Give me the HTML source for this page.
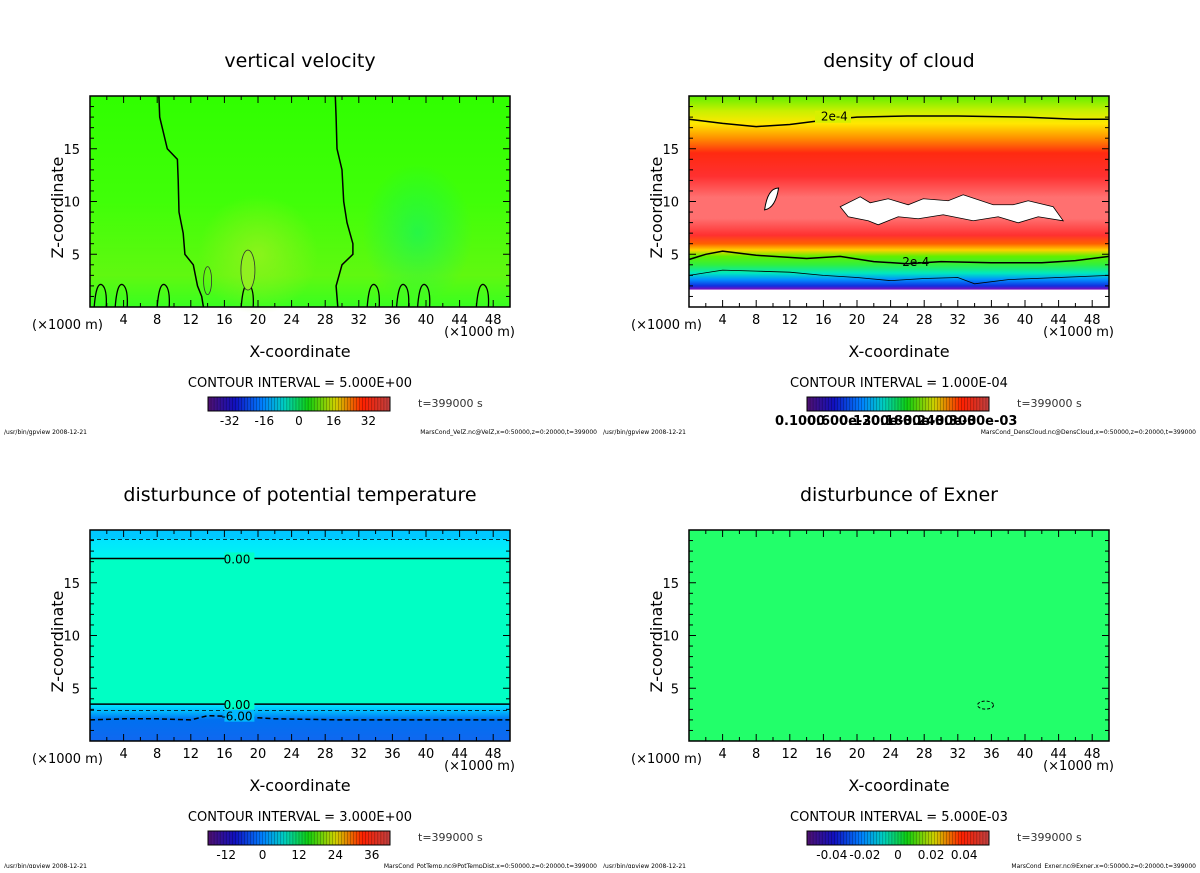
<!DOCTYPE html>
<html><head><meta charset="utf-8">
<style>
body{margin:0;background:#fff;width:1200px;height:868px;overflow:hidden;font-family:"Liberation Sans",sans-serif}
svg text{font-family:"DejaVu Sans","Liberation Sans",sans-serif}
</style></head>
<body>
<svg id="fig" width="1200" height="868" viewBox="0 0 1200 868" xmlns="http://www.w3.org/2000/svg">
<defs>
<linearGradient id="gVel" x1="0" y1="0" x2="0" y2="1">
<stop offset="0" stop-color="#30ff00"/><stop offset="0.5" stop-color="#40ff08"/><stop offset="0.85" stop-color="#60f810"/><stop offset="1" stop-color="#38ff20"/>
</linearGradient>
<radialGradient id="gVelBlob" cx="0.5" cy="0.5" r="0.5">
<stop offset="0" stop-color="#a0f020" stop-opacity="0.7"/><stop offset="1" stop-color="#a0f020" stop-opacity="0"/>
</radialGradient>
<radialGradient id="gVelBlue" cx="0.5" cy="0.5" r="0.5">
<stop offset="0" stop-color="#00f080" stop-opacity="0.5"/><stop offset="1" stop-color="#00f080" stop-opacity="0"/>
</radialGradient>
<linearGradient id="gDens" x1="0" y1="0" x2="0" y2="1">
<stop offset="0" stop-color="#60f000"/><stop offset="0.07" stop-color="#c8f000"/><stop offset="0.13" stop-color="#ffe800"/>
<stop offset="0.2" stop-color="#ff9000"/><stop offset="0.27" stop-color="#ff2a10"/><stop offset="0.38" stop-color="#ff3030"/>
<stop offset="0.48" stop-color="#ff7070"/><stop offset="0.58" stop-color="#ff7070"/><stop offset="0.66" stop-color="#ff3030"/>
<stop offset="0.7" stop-color="#ff6000"/><stop offset="0.73" stop-color="#ffd000"/><stop offset="0.76" stop-color="#60f000"/>
<stop offset="0.8" stop-color="#30f040"/><stop offset="0.84" stop-color="#00e8c0"/><stop offset="0.87" stop-color="#0090ff"/>
<stop offset="0.9" stop-color="#1030e0"/><stop offset="0.915" stop-color="#7010c0"/><stop offset="0.92" stop-color="#ffffff"/><stop offset="1" stop-color="#ffffff"/>
</linearGradient>
<linearGradient id="gPot" x1="0" y1="0" x2="0" y2="1">
<stop offset="0" stop-color="#00c8ff"/><stop offset="0.04" stop-color="#00c8ff"/><stop offset="0.045" stop-color="#00e4ff"/>
<stop offset="0.13" stop-color="#00f4f0"/><stop offset="0.135" stop-color="#00ffc4"/><stop offset="0.82" stop-color="#00ffc4"/>
<stop offset="0.825" stop-color="#00e8ff"/><stop offset="0.86" stop-color="#00b8ff"/><stop offset="0.9" stop-color="#0070f0"/><stop offset="1" stop-color="#1068f0"/>
</linearGradient>
<linearGradient id="gCb" x1="0" y1="0" x2="1" y2="0">
<stop offset="0" stop-color="#501070"/><stop offset="0.15" stop-color="#1010c0"/><stop offset="0.3" stop-color="#0080ff"/>
<stop offset="0.42" stop-color="#00d0c0"/><stop offset="0.55" stop-color="#10d010"/><stop offset="0.7" stop-color="#d0d000"/>
<stop offset="0.85" stop-color="#ff2000"/><stop offset="1" stop-color="#c04040"/>
</linearGradient>
</defs>
<g id="panels"></g>
</svg>
<script>
// ---- data ----
const xTicks = [4,8,12,16,20,24,28,32,36,40,44,48];
const zTicks = [5,10,15];
const titles = ["vertical velocity","density of cloud","disturbunce of potential temperature","disturbunce of Exner"];
const intervals = ["5.000E+00","1.000E-04","3.000E+00","5.000E-03"];
const cbTickVals = [[-32,-16,0,16,32],[],[-12,0,12,24,36],[-0.04,-0.02,0,0.02,0.04]];
const cbRanges = [[-42,42],[0,1],[-18,42],[-0.055,0.055]];
const cbTickLabels = [["-32","-16","0","16","32"],[],["-12","0","12","24","36"],["-0.04","-0.02","0","0.02","0.04"]];
const files = ["MarsCond_VelZ.nc@VelZ,x=0:50000,z=0:20000,t=399000","MarsCond_DensCloud.nc@DensCloud,x=0:50000,z=0:20000,t=399000","MarsCond_PotTemp.nc@PotTempDist,x=0:50000,z=0:20000,t=399000","MarsCond_Exner.nc@Exner,x=0:50000,z=0:20000,t=399000"];
// contour lines (x km, z km)
const velLine1X = [8.2,8.3,9.2,10.4,10.5,10.6,11.1,11.3,12.3,12.8,13.3,13.5];
const velLine1Z = [20,18,15,14,12,9,7,5,4,2,1,0];
const velLine2X = [29.2,29.3,29.4,30.0,30.2,30.6,31.3,31.3,30.0,29.3,29.5];
const velLine2Z = [20,18,15,13,10,8,6,5,4,2,0];
const densTopX = [0,4,8,12,16,20,26,32,40,46,50];
const densTopZ = [17.8,17.4,17.1,17.3,17.7,18.0,18.1,18.1,18.0,17.8,17.8];
const densLowX = [0,2,4,8,14,18,22,26,30,36,42,46,50];
const densLowZ = [4.5,5.0,5.3,4.9,4.6,4.8,4.3,4.1,4.3,4.2,4.2,4.4,4.8];
const densBlueX = [0,4,8,12,16,20,24,28,32,34,38,44,50];
const densBlueZ = [3.0,3.5,3.4,3.3,3.0,2.8,2.5,2.7,2.8,2.2,2.6,2.8,3.0];
const potZeroTop = 17.3, potDashTop = 19.1, potZeroLow = 3.5, potDashLow1 = 2.9;
const potLowX = [0,4,8,12,14,18,22,30,40,50];
const potLowZ = [2.0,2.1,2.1,2.0,2.4,2.3,2.1,2.0,2.0,2.0];

const NS="http://www.w3.org/2000/svg";
const root=document.getElementById('panels');
function mk(tag,attrs,parent,txt){const e=document.createElementNS(NS,tag);for(const k in attrs)e.setAttribute(k,attrs[k]);if(txt!==undefined)e.textContent=txt;(parent||root).appendChild(e);return e;}

const origins=[[90,96],[689,96],[90,530],[689,530]];
const W=420,H=211;
const fills=["url(#gVel)","url(#gDens)","url(#gPot)","#22ff6a"];

origins.forEach((o,i)=>{
  const [L,T]=o;
  const sx=x=>L+x/50*W, sz=z=>T+H-z/20*H;
  const g=mk('g',{});
  
  
  const t=mk('text',{x:L+W/2,y:T-29,'text-anchor':'middle','font-size':19},g,titles[i]);
  
  
  const pa=mk('rect',{x:L,y:T,width:W,height:H,fill:fills[i]},g);
  
  
  const line=(xs,zs,attrs)=>{const d=xs.map((x,k)=>(k?'L':'M')+sx(x).toFixed(1)+' '+sz(zs[k]).toFixed(1)).join(' ');const p=mk('path',Object.assign({d:d,fill:'none',stroke:'#000','stroke-width':1.5},attrs),g);return p;};
  if(i===0){
    mk('ellipse',{cx:sx(20),cy:sz(5),rx:60,ry:60,fill:'url(#gVelBlob)'},g);
    mk('ellipse',{cx:sx(39),cy:sz(7),rx:55,ry:70,fill:'url(#gVelBlue)'},g);
    line(velLine1X,velLine1Z);line(velLine2X,velLine2Z);
    [1.5,4,9,19,34,37.5,40,47].forEach(x=>{mk('path',{d:`M${sx(x-1)} ${T+H} q2 -26 8 -22 q5 4 4 22`,fill:'none',stroke:'#000','stroke-width':1.3},g);});
    mk('ellipse',{cx:sx(18.8),cy:sz(3.5),rx:7,ry:20,fill:'#90f020',stroke:'#333','stroke-width':0.8},g);
    mk('ellipse',{cx:sx(14),cy:sz(2.5),rx:4,ry:14,fill:'none',stroke:'#333','stroke-width':0.8},g);
  }
  if(i===1){
    line(densTopX,densTopZ);line(densLowX,densLowZ);line(densBlueX,densBlueZ,{'stroke-width':0.8});
    mk('rect',{x:sx(15),y:sz(18.6),width:36,height:12,fill:'#d6f000'},g);
    mk('text',{x:sx(17.3),y:sz(17.7),'text-anchor':'middle','font-size':12},g,'2e-4');
    mk('text',{x:sx(27),y:sz(3.9),'text-anchor':'middle','font-size':12},g,'2e-4');
    mk('path',{d:`M${sx(9)} ${sz(9.2)} q3 -22 14 -22 q-3 20 -14 22z`,fill:'#fff',stroke:'#000','stroke-width':1},g);
    mk('path',{d:`M${sx(18)} ${sz(9.5)} l20 -10 l10 6 l18 -4 l20 6 l15 -6 l25 2 l15 -6 l30 10 l20 0 l15 -4 l25 6 l10 14 l-25 -4 l-20 6 l-20 -6 l-25 4 l-30 -6 l-25 4 l-20 -2 l-20 8 l-10 -4 l-20 -4z`,fill:'#fff',stroke:'#000','stroke-width':0.8},g);
  }
  if(i===2){
    line([0,50],[potZeroTop,potZeroTop]);line([0,50],[potDashTop,potDashTop],{'stroke-dasharray':'4 3','stroke-width':0.8});
    line([0,50],[potZeroLow,potZeroLow]);line([0,50],[potDashLow1,potDashLow1],{'stroke-dasharray':'4 3','stroke-width':0.8});
    line(potLowX,potLowZ,{'stroke-dasharray':'5 3'});
    [[potZeroTop,'0.00'],[potZeroLow,'0.00'],[2.4,'-6.00']].forEach(a=>{
      mk('rect',{x:sx(16),y:sz(a[0])-6,width:30,height:12,fill:a[1]==='-6.00'?'#00b8ff':'#00ffc4'},g);
      mk('text',{x:sx(17.5),y:sz(a[0])+5,'text-anchor':'middle','font-size':12},g,a[1]);
    });
  }
  if(i===3){
    mk('ellipse',{cx:sx(35.3),cy:sz(3.4),rx:8,ry:4,fill:'none',stroke:'#000','stroke-dasharray':'3 2','stroke-width':1},g);
  }
  mk('rect',{x:L,y:T,width:W,height:H,fill:'none',stroke:'#000','stroke-width':1.5},g);
  for(let x=2;x<50;x+=2){const len=x%4===0?7:4;mk('line',{x1:sx(x),x2:sx(x),y1:T,y2:T+len,stroke:'#000'},g);mk('line',{x1:sx(x),x2:sx(x),y1:T+H,y2:T+H-len,stroke:'#000'},g);}
  for(let z=1;z<20;z++){const len=z%5===0?7:4;mk('line',{x1:L,x2:L+len,y1:sz(z),y2:sz(z),stroke:'#000'},g);mk('line',{x1:L+W,x2:L+W-len,y1:sz(z),y2:sz(z),stroke:'#000'},g);}
  xTicks.forEach(x=>{const e=mk('text',{x:sx(x),y:T+H+17,'text-anchor':'middle','font-size':13},g,String(x));});
  zTicks.forEach(z=>{const e=mk('text',{x:L-10,y:sz(z)+5,'text-anchor':'end','font-size':13},g,String(z));});
  mk('text',{x:L-58,y:T+H+22,'font-size':13},g,'(×1000 m)');
  mk('text',{x:L+W+5,y:T+H+29,'text-anchor':'end','font-size':13},g,'(×1000 m)');
  const xt=mk('text',{x:L+210,y:T+H+50,'text-anchor':'middle','font-size':16},g,'X-coordinate');
  
  const zt=mk('text',{x:0,y:0,'text-anchor':'middle','font-size':16,transform:`translate(${L-27},${T+H/2+6}) rotate(-90)`},g,'Z-coordinate');
  
  mk('text',{x:L+210,y:T+H+80,'text-anchor':'middle','font-size':13},g,'CONTOUR INTERVAL = '+intervals[i]);
  const cbx=L+118,cby=T+H+90,cbw=182,cbh=14;
  const cb=mk('rect',{x:cbx,y:cby,width:cbw,height:cbh,fill:'url(#gCb)',stroke:'#000'},g);
  
  for(let k=1;k<60;k++)mk('line',{x1:cbx+k*cbw/60,x2:cbx+k*cbw/60,y1:cby,y2:cby+cbh,stroke:'#000','stroke-width':0.4,'stroke-opacity':0.6},g);
  const [r0,r1]=cbRanges[i];
  cbTickVals[i].forEach((v,k)=>{mk('text',{x:cbx+(v-r0)/(r1-r0)*cbw,y:cby+cbh+14,'text-anchor':'middle','font-size':12},g,cbTickLabels[i][k]);});
  if(i===1){['0.1000','0.600e-3','0.1200e-3','0.1800e-3','0.2400e-3','0.3000e-03'].forEach((s,k)=>{mk('text',{x:cbx-32+k*32,y:cby+cbh+14,'font-size':13,'font-weight':'bold'},g,s);});}
  mk('text',{x:L+328,y:cby+10,'font-size':11,fill:'#333'},g,'t=399000  s');
  mk('text',{x:L-86,y:T+H+127,'font-size':6},g,'/usr/bin/gpview   2008-12-21');
  mk('text',{x:L+507,y:T+H+127,'text-anchor':'end','font-size':6},g,files[i]);
});
</script>
</body></html>
